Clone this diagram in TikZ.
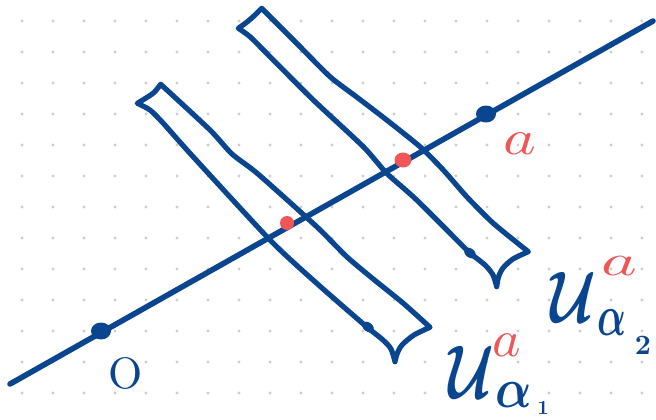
\documentclass[tikz,border=0pt]{standalone}
\usepackage{bm}
\usetikzlibrary{shapes.geometric}
\definecolor{ink}{RGB}{10,70,143}
\definecolor{redink}{RGB}{240,86,86}
\definecolor{griddot}{RGB}{205,205,205}
\begin{document}
\begin{tikzpicture}[x=1pt,y=-1pt,
  strip/.style={draw=ink,line width=5.2pt,line join=round,line cap=round},
  axis/.style={draw=ink,line width=5.6pt,line cap=round},
  bigdot/.style={ellipse,fill=ink,inner sep=0pt,minimum width=20pt,minimum height=17pt},
  reddot/.style={ellipse,fill=redink,inner sep=0pt},
  blob/.style={ellipse,fill=ink,inner sep=0pt,minimum width=13pt,minimum height=9pt,rotate=-38},
  lbl/.style={text=ink,inner sep=0pt},
  rlbl/.style={text=redink,inner sep=0pt}]
\useasboundingbox (0,0) rectangle (656,420);
\fill[white] (0,0) rectangle (656,420);
% dot grid
\foreach \i in {0,...,20}{
  \foreach \j in {0,...,12}{
    \fill[griddot] (22+31*\i,21+31*\j) circle (1.7pt);
  }
}
% strip 1 (lower left)
\draw[strip] plot[smooth,tension=0.5] coordinates {(137.3,103.3) (146,98) (154,92.5) (160.7,84.3)}
  -- plot[smooth,tension=0.4] coordinates {(160.7,84.3) (210,130) (232,154) (258,174) (316.7,226.7) (346.7,256.7) (372,278) (403.3,303.3) (430,327.3)}
  -- plot[smooth,tension=0.5] coordinates {(430,327.3) (414,335) (402,345) (397,354) (395,361.7)}
  -- plot[smooth,tension=0.5] coordinates {(395,361.7) (391,349) (383,340) (368.3,328.3)}
  -- plot[smooth,tension=0.4] coordinates {(368.3,328.3) (316.7,283.3) (270,240) (190,153.3) (163.3,123.3) (150,110) (137.3,103.3)}
  -- cycle;
\node[blob] (b1) at (368,327) {};
% strip 2 (upper right)
\draw[strip] plot[smooth,tension=0.5] coordinates {(238.3,28.3) (247,22) (255,15) (261.7,8.3)}
  -- plot[smooth,tension=0.4] coordinates {(261.7,8.3) (296.7,43.3) (330,76.7) (358,98) (386.7,120) (420,146.7) (443.3,170) (466.7,196.7) (493.3,223.3) (528.3,251.7)}
  -- plot[smooth,tension=0.5] coordinates {(528.3,251.7) (513,259) (503,268) (498.5,277) (496.7,286.7)}
  -- plot[smooth,tension=0.5] coordinates {(496.7,286.7) (493,275) (485,265) (470,253.3)}
  -- plot[smooth,tension=0.4] coordinates {(470,253.3) (416.7,200) (386.7,173.3) (363.3,146.7) (313.3,100) (270,56.7) (250,36.7) (238.3,28.3)}
  -- cycle;
\node[blob] (b2) at (470,253) {};
% main line
\coordinate (L0) at (10,384);
\coordinate (L1) at (653,21);
\draw[axis] (L0) -- (L1);
% points
\node[bigdot] (O) at (101,331) {};
\node[bigdot] (A) at (486,114) {};
\node[reddot,minimum width=17pt,minimum height=15pt] (r2) at (403,160) {};
\node[reddot,minimum width=14pt,minimum height=14pt] (r1) at (287,223) {};
% labels
\node[rlbl,xscale=6.2,yscale=5] (la) at (520,144) {$a$};
\node[lbl,scale=4.4] (lO) at (126,373) {O};
\node[lbl,xscale=5.6,yscale=7.3] (U2) at (573,297) {$\bm{\mathcal{U}}$};
\node[lbl,xscale=3.8,yscale=5.8] (al2) at (612,323) {$\bm{\alpha}$};
\node[lbl,scale=2.8] (n2) at (643,345) {\textbf{2}};
\node[rlbl,xscale=6.8,yscale=4.4] (s2) at (619,266) {$a$};
\node[lbl,xscale=5.6,yscale=7.6] (U1) at (471,372) {$\bm{\mathcal{U}}$};
\node[lbl,xscale=4.8,yscale=5.6] (al1) at (514,395) {$\bm{\alpha}$};
\node[lbl,scale=2] (n1) at (543,408) {\textbf{1}};
\node[rlbl,xscale=5.4,yscale=5.2] (s1) at (507,345) {$a$};
\end{tikzpicture}
\end{document}
